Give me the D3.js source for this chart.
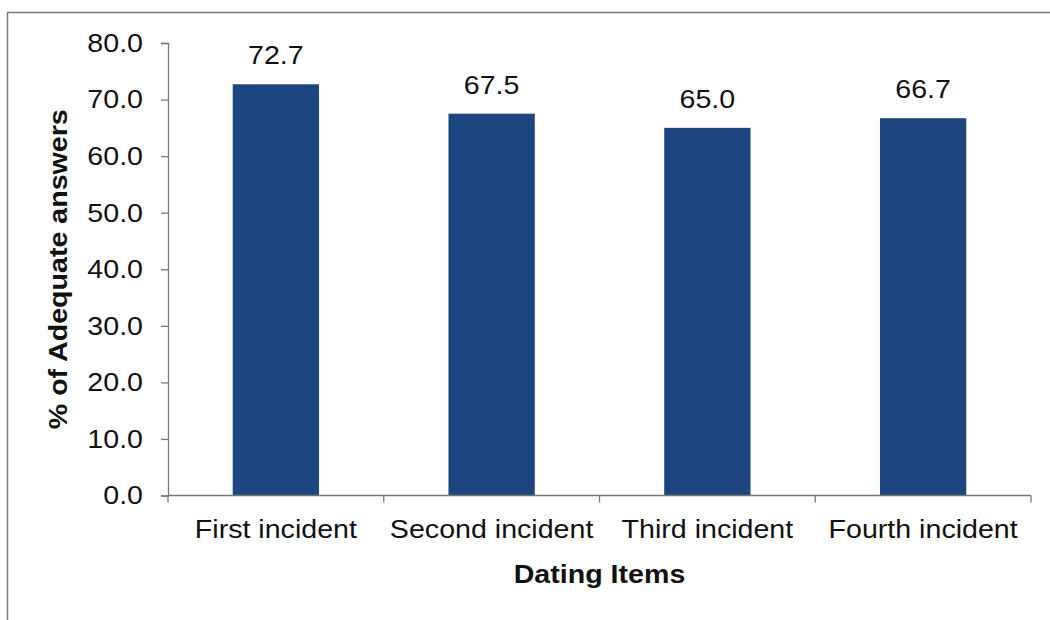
<!DOCTYPE html>
<html>
<head>
<meta charset="utf-8">
<script src="https://cdn.jsdelivr.net/npm/d3@7"></script>
<style>
  html, body { margin: 0; padding: 0; background: #fff; }
  svg { display: block; font-family: "Liberation Sans", Arial, sans-serif; }
</style>
</head>
<body>
<svg id="chart" width="1050" height="620"></svg>
<script>
const categories = ["First incident", "Second incident", "Third incident", "Fourth incident"];
const values = [72.7, 67.5, 65.0, 66.7];
const yTicks = [0, 10, 20, 30, 40, 50, 60, 70, 80];
const xTitle = "Dating Items";
const yTitle = "% of Adequate answers";

const svg = d3.select("#chart");
const W = 1050, H = 620;
const m = { left: 168, right: 1050 - 1031, top: 43, bottom: 620 - 495.5 };
const SX = 1.1; // horizontal glyph stretch seen in reference
const FS = 26;

// frame (left & top edges visible)
svg.append("line").attr("x1", 7.5).attr("x2", 7.5).attr("y1", 12).attr("y2", H)
  .attr("stroke", "#6f7f7f").attr("stroke-width", 1.5);
svg.append("line").attr("x1", 7).attr("x2", W).attr("y1", 12.5).attr("y2", 12.5)
  .attr("stroke", "#6f7f7f").attr("stroke-width", 1.5);

const x = d3.scaleBand().domain(categories).range([m.left, W - m.right]).paddingInner(0.6).paddingOuter(0.3);
const xCat = d3.scaleBand().domain(categories).range([m.left, W - m.right]).padding(0);
const y = d3.scaleLinear().domain([0, 80]).range([H - m.bottom, m.top]);

function stretchText(sel) {
  sel.each(function () {
    const t = d3.select(this);
    const xv = +t.attr("x") || 0;
    t.attr("x", xv / SX).attr("transform", (t.attr("transform") || "") + ` scale(${SX},1)`);
  });
}

// bars
svg.append("g").selectAll("rect").data(values).join("rect")
  .attr("x", (d, i) => x(categories[i]))
  .attr("width", x.bandwidth())
  .attr("y", d => y(d))
  .attr("height", d => y(0) - y(d))
  .attr("fill", "#1d4580");

// value labels
svg.append("g").selectAll("text").data(values).join("text")
  .attr("x", (d, i) => x(categories[i]) + x.bandwidth() / 2)
  .attr("y", d => y(d) - 20)
  .attr("text-anchor", "middle")
  .attr("font-size", FS)
  .attr("fill", "#111")
  .text(d => d.toFixed(1))
  .call(stretchText);

// y axis
const yAxis = svg.append("g").attr("transform", `translate(${m.left},0)`)
  .call(d3.axisLeft(y).tickValues(yTicks).tickSize(7).tickPadding(18).tickFormat(d => d.toFixed(1)));
yAxis.select(".domain").attr("stroke", "#777").attr("stroke-width", 1.3);
yAxis.selectAll(".tick line").attr("stroke", "#777").attr("stroke-width", 1.3);
yAxis.selectAll("text").attr("font-size", FS).attr("fill", "#111").attr("font-family", "Liberation Sans, Arial, sans-serif")
  .call(stretchText);

// x axis: baseline with ticks at category boundaries
const xAxis = svg.append("g").attr("transform", `translate(0,${y(0)})`);
xAxis.append("line").attr("x1", m.left).attr("x2", W - m.right).attr("y1", 0).attr("y2", 0)
  .attr("stroke", "#777").attr("stroke-width", 1.3);
const bounds = categories.map(c => xCat(c)).concat([xCat(categories[categories.length - 1]) + xCat.bandwidth()]);
xAxis.selectAll("line.tk").data(bounds).join("line").attr("class", "tk")
  .attr("x1", d => d).attr("x2", d => d).attr("y1", 0).attr("y2", 7)
  .attr("stroke", "#777").attr("stroke-width", 1.3);
xAxis.selectAll("text").data(categories).join("text")
  .attr("x", d => xCat(d) + xCat.bandwidth() / 2)
  .attr("y", 43)
  .attr("text-anchor", "middle")
  .attr("font-size", FS)
  .attr("fill", "#111")
  .text(d => d)
  .call(stretchText);

// axis titles
svg.append("text")
  .attr("x", (m.left + W - m.right) / 2 - 0)
  .attr("y", 583)
  .attr("text-anchor", "middle")
  .attr("font-size", FS)
  .attr("font-weight", "bold")
  .attr("fill", "#111")
  .text(xTitle)
  .call(stretchText);

svg.append("text")
  .attr("transform", `translate(67,${(y(0) + y(80)) / 2}) rotate(-90) scale(${SX},1)`)
  .attr("text-anchor", "middle")
  .attr("font-size", FS)
  .attr("font-weight", "bold")
  .attr("fill", "#111")
  .text(yTitle);
</script>
</body>
</html>
